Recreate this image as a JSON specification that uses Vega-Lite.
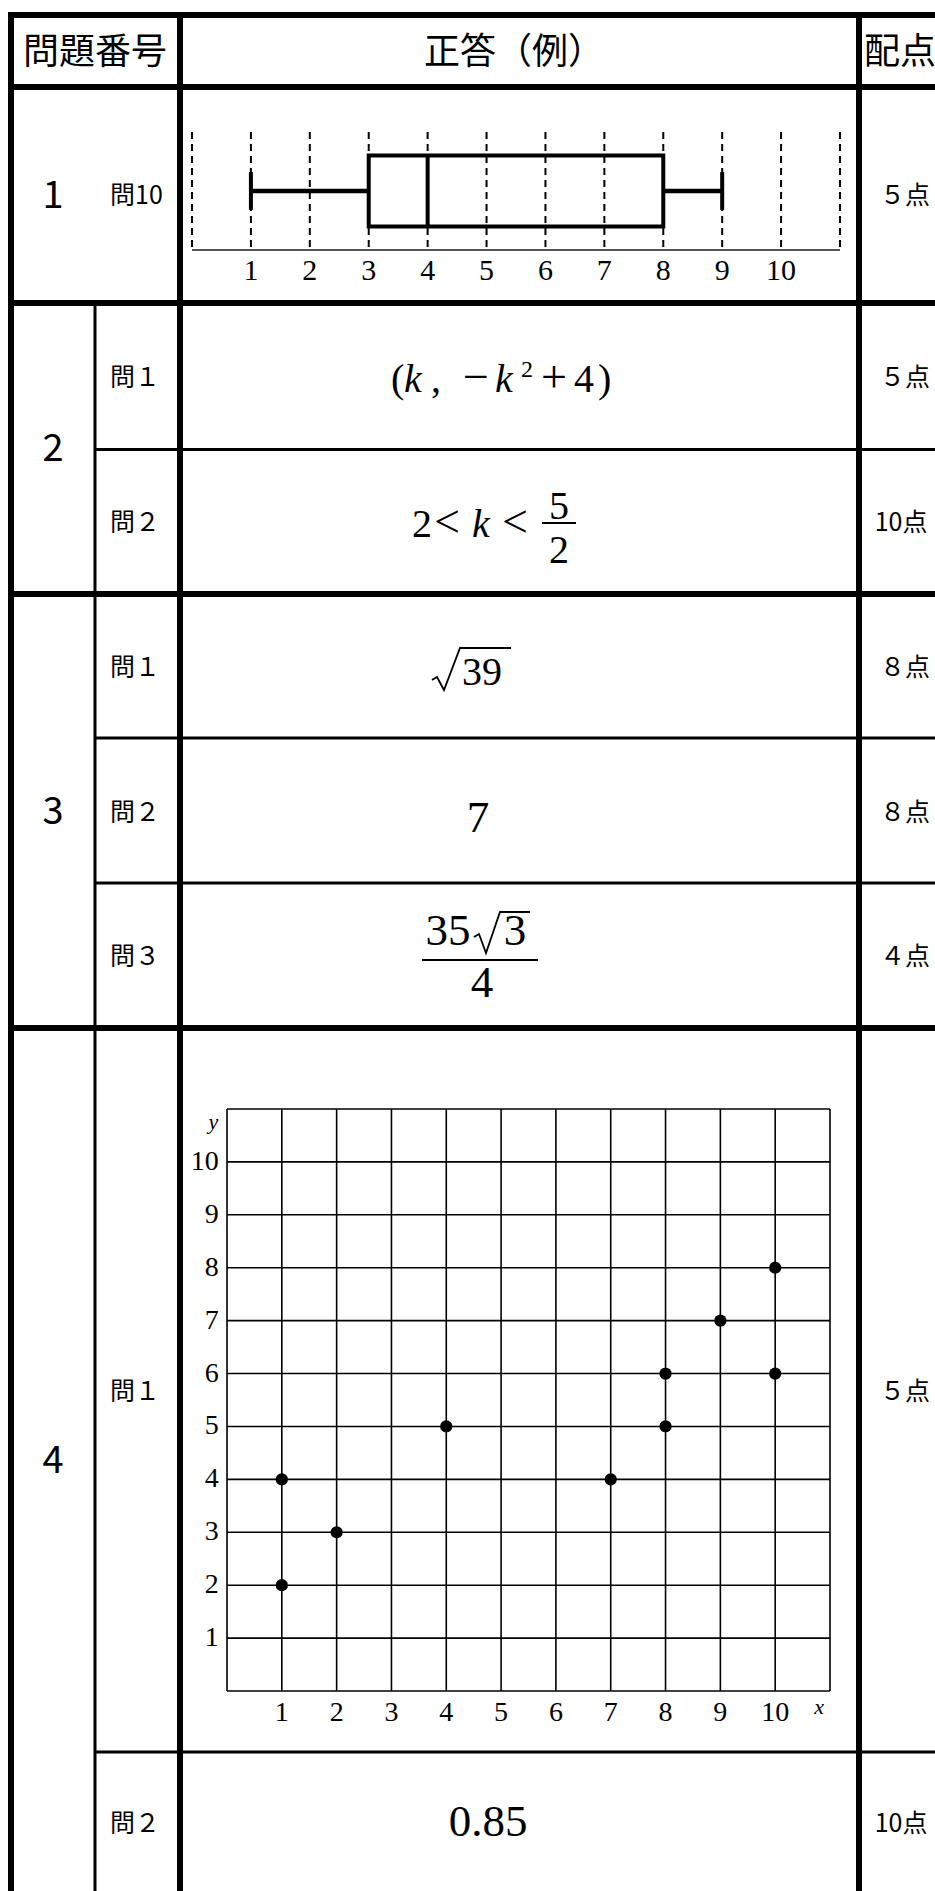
{
  "$schema": "https://vega.github.io/schema/vega-lite/v6.json",
  "width": 935,
  "height": 1891,
  "autosize": {"type": "none"},
  "padding": 0,
  "background": "white",
  "config": {"view": {"stroke": null}},
  "datasets": {
    "tableLines": [
      {"x1": 8, "x2": 935, "y1": 15, "y2": 15, "k": "thick"},
      {"x1": 8, "x2": 935, "y1": 87, "y2": 87, "k": "thick"},
      {"x1": 8, "x2": 935, "y1": 303, "y2": 303, "k": "thick"},
      {"x1": 95, "x2": 935, "y1": 449.5, "y2": 449.5, "k": "thin"},
      {"x1": 8, "x2": 935, "y1": 594, "y2": 594, "k": "thick"},
      {"x1": 95, "x2": 935, "y1": 738, "y2": 738, "k": "thin"},
      {"x1": 95, "x2": 935, "y1": 883, "y2": 883, "k": "thin"},
      {"x1": 8, "x2": 935, "y1": 1028, "y2": 1028, "k": "thick"},
      {"x1": 95, "x2": 935, "y1": 1752, "y2": 1752, "k": "thin"},
      {"x1": 11, "x2": 11, "y1": 12, "y2": 1891, "k": "thick"},
      {"x1": 95, "x2": 95, "y1": 303, "y2": 1891, "k": "thin"},
      {"x1": 180, "x2": 180, "y1": 12, "y2": 1891, "k": "thick"},
      {"x1": 859, "x2": 859, "y1": 12, "y2": 1891, "k": "thick"}
    ],
    "header": [
      {"x": 95, "y": 53, "t": "問題番号"},
      {"x": 514, "y": 53, "t": "正答（例）"},
      {"x": 900, "y": 53, "t": "配点"}
    ],
    "bigNums": [
      {"x": 53, "y": 197, "t": "1"},
      {"x": 53, "y": 450, "t": "2"},
      {"x": 53, "y": 813, "t": "3"},
      {"x": 53, "y": 1462, "t": "4"}
    ],
    "subLabels": [
      {"x": 110, "y": 196, "t": "問10"},
      {"x": 110, "y": 378, "t": "問１"},
      {"x": 110, "y": 523, "t": "問２"},
      {"x": 110, "y": 668, "t": "問１"},
      {"x": 110, "y": 813, "t": "問２"},
      {"x": 110, "y": 957, "t": "問３"},
      {"x": 110, "y": 1392, "t": "問１"},
      {"x": 110, "y": 1824, "t": "問２"}
    ],
    "scores": [
      {"x": 905, "y": 196, "t": "５点"},
      {"x": 905, "y": 378, "t": "５点"},
      {"x": 901, "y": 523, "t": "10点"},
      {"x": 905, "y": 668, "t": "８点"},
      {"x": 905, "y": 813, "t": "８点"},
      {"x": 905, "y": 957, "t": "４点"},
      {"x": 905, "y": 1392, "t": "５点"},
      {"x": 901, "y": 1824, "t": "10点"}
    ],
    "mathRoman": [
      {"x": 391, "y": 392, "t": "("},
      {"x": 431, "y": 392, "t": ","},
      {"x": 574, "y": 392, "t": "4"},
      {"x": 598, "y": 392, "t": ")"},
      {"x": 412, "y": 537, "t": "2"},
      {"x": 462, "y": 685, "t": "39"}
    ],
    "mathOps": [
      {"x": 463, "y": 392, "t": "−"},
      {"x": 541, "y": 392, "t": "+"},
      {"x": 434, "y": 537, "t": "<"},
      {"x": 502, "y": 537, "t": "<"}
    ],
    "mathItalic": [
      {"x": 404, "y": 392, "t": "k"},
      {"x": 495, "y": 392, "t": "k"},
      {"x": 472, "y": 537, "t": "k"}
    ],
    "mathSup": [
      {"x": 521, "y": 377, "t": "2"}
    ],
    "mathCenter": [
      {"x": 559, "y": 519, "t": "5"},
      {"x": 559, "y": 563, "t": "2"}
    ],
    "mathLarge": [
      {"x": 478, "y": 832, "t": "7"},
      {"x": 488, "y": 1836, "t": "0.85"},
      {"x": 448, "y": 945, "t": "35"},
      {"x": 515, "y": 945, "t": "3"},
      {"x": 482, "y": 997, "t": "4"}
    ],
    "mathLines": [
      {"g": "bar1", "x": 542, "y": 523},
      {"g": "bar1", "x": 576, "y": 523},
      {"g": "rad1", "x": 432, "y": 680},
      {"g": "rad1", "x": 437, "y": 677},
      {"g": "rad1", "x": 444, "y": 690},
      {"g": "rad1", "x": 460, "y": 648},
      {"g": "rad1", "x": 511, "y": 648},
      {"g": "bar2", "x": 422, "y": 960},
      {"g": "bar2", "x": 538, "y": 960},
      {"g": "rad2", "x": 474, "y": 937},
      {"g": "rad2", "x": 479, "y": 934},
      {"g": "rad2", "x": 486, "y": 953},
      {"g": "rad2", "x": 500, "y": 912},
      {"g": "rad2", "x": 530, "y": 912}
    ],
    "boxSummary": [
      {"min": 1, "q1": 3, "median": 4, "q3": 8, "max": 9}
    ],
    "boxGrid": [
      {"v": 0}, {"v": 1}, {"v": 2}, {"v": 3}, {"v": 4}, {"v": 5},
      {"v": 6}, {"v": 7}, {"v": 8}, {"v": 9}, {"v": 10}, {"v": 11}
    ],
    "ticks": [
      {"v": 1}, {"v": 2}, {"v": 3}, {"v": 4}, {"v": 5},
      {"v": 6}, {"v": 7}, {"v": 8}, {"v": 9}, {"v": 10}
    ],
    "points": [
      {"x": 1, "y": 2}, {"x": 1, "y": 4}, {"x": 2, "y": 3}, {"x": 4, "y": 5},
      {"x": 7, "y": 4}, {"x": 8, "y": 5}, {"x": 8, "y": 6}, {"x": 9, "y": 7},
      {"x": 10, "y": 6}, {"x": 10, "y": 8}
    ]
  },
  "resolve": {"scale": {"x": "independent", "y": "independent", "strokeWidth": "independent"}},
  "layer": [
    {
      "data": {"name": "tableLines"},
      "mark": {"type": "rule", "color": "black"},
      "encoding": {
        "x": {"field": "x1", "type": "quantitative", "axis": null, "scale": {"domain": [0, 935], "range": [0, 935], "nice": false, "zero": false}},
        "x2": {"field": "x2"},
        "y": {"field": "y1", "type": "quantitative", "axis": null, "scale": {"domain": [0, 1891], "range": [0, 1891], "nice": false, "zero": false}},
        "y2": {"field": "y2"},
        "strokeWidth": {"field": "k", "type": "nominal", "legend": null, "scale": {"domain": ["thick", "thin"], "range": [6, 3]}}
      }
    },
    {
      "data": {"name": "header"},
      "mark": {"type": "text", "font": "Noto Sans CJK JP", "fontSize": 36, "align": "center", "baseline": "middle", "color": "black"},
      "encoding": {
        "x": {"field": "x", "type": "quantitative", "axis": null, "scale": {"domain": [0, 935], "range": [0, 935], "nice": false, "zero": false}},
        "y": {"field": "y", "type": "quantitative", "axis": null, "scale": {"domain": [0, 1891], "range": [0, 1891], "nice": false, "zero": false}},
        "text": {"field": "t"}
      }
    },
    {
      "data": {"name": "bigNums"},
      "mark": {"type": "text", "font": "Noto Sans CJK JP", "fontSize": 38, "align": "center", "baseline": "middle", "color": "black"},
      "encoding": {
        "x": {"field": "x", "type": "quantitative", "axis": null, "scale": {"domain": [0, 935], "range": [0, 935], "nice": false, "zero": false}},
        "y": {"field": "y", "type": "quantitative", "axis": null, "scale": {"domain": [0, 1891], "range": [0, 1891], "nice": false, "zero": false}},
        "text": {"field": "t"}
      }
    },
    {
      "data": {"name": "subLabels"},
      "mark": {"type": "text", "font": "Noto Sans CJK JP", "fontSize": 25, "align": "left", "baseline": "middle", "color": "black"},
      "encoding": {
        "x": {"field": "x", "type": "quantitative", "axis": null, "scale": {"domain": [0, 935], "range": [0, 935], "nice": false, "zero": false}},
        "y": {"field": "y", "type": "quantitative", "axis": null, "scale": {"domain": [0, 1891], "range": [0, 1891], "nice": false, "zero": false}},
        "text": {"field": "t"}
      }
    },
    {
      "data": {"name": "scores"},
      "mark": {"type": "text", "font": "Noto Sans CJK JP", "fontSize": 25, "align": "center", "baseline": "middle", "color": "black"},
      "encoding": {
        "x": {"field": "x", "type": "quantitative", "axis": null, "scale": {"domain": [0, 935], "range": [0, 935], "nice": false, "zero": false}},
        "y": {"field": "y", "type": "quantitative", "axis": null, "scale": {"domain": [0, 1891], "range": [0, 1891], "nice": false, "zero": false}},
        "text": {"field": "t"}
      }
    },
    {
      "data": {"name": "mathRoman"},
      "mark": {"type": "text", "font": "Liberation Serif", "fontSize": 40, "align": "left", "baseline": "alphabetic", "color": "black"},
      "encoding": {
        "x": {"field": "x", "type": "quantitative", "axis": null, "scale": {"domain": [0, 935], "range": [0, 935], "nice": false, "zero": false}},
        "y": {"field": "y", "type": "quantitative", "axis": null, "scale": {"domain": [0, 1891], "range": [0, 1891], "nice": false, "zero": false}},
        "text": {"field": "t"}
      }
    },
    {
      "data": {"name": "mathOps"},
      "mark": {"type": "text", "font": "Liberation Serif", "fontSize": 46, "align": "left", "baseline": "alphabetic", "color": "black"},
      "encoding": {
        "x": {"field": "x", "type": "quantitative", "axis": null, "scale": {"domain": [0, 935], "range": [0, 935], "nice": false, "zero": false}},
        "y": {"field": "y", "type": "quantitative", "axis": null, "scale": {"domain": [0, 1891], "range": [0, 1891], "nice": false, "zero": false}},
        "text": {"field": "t"}
      }
    },
    {
      "data": {"name": "mathItalic"},
      "mark": {"type": "text", "font": "Liberation Serif", "fontSize": 40, "fontStyle": "italic", "align": "left", "baseline": "alphabetic", "color": "black"},
      "encoding": {
        "x": {"field": "x", "type": "quantitative", "axis": null, "scale": {"domain": [0, 935], "range": [0, 935], "nice": false, "zero": false}},
        "y": {"field": "y", "type": "quantitative", "axis": null, "scale": {"domain": [0, 1891], "range": [0, 1891], "nice": false, "zero": false}},
        "text": {"field": "t"}
      }
    },
    {
      "data": {"name": "mathSup"},
      "mark": {"type": "text", "font": "Liberation Serif", "fontSize": 24, "align": "left", "baseline": "alphabetic", "color": "black"},
      "encoding": {
        "x": {"field": "x", "type": "quantitative", "axis": null, "scale": {"domain": [0, 935], "range": [0, 935], "nice": false, "zero": false}},
        "y": {"field": "y", "type": "quantitative", "axis": null, "scale": {"domain": [0, 1891], "range": [0, 1891], "nice": false, "zero": false}},
        "text": {"field": "t"}
      }
    },
    {
      "data": {"name": "mathCenter"},
      "mark": {"type": "text", "font": "Liberation Serif", "fontSize": 40, "align": "center", "baseline": "alphabetic", "color": "black"},
      "encoding": {
        "x": {"field": "x", "type": "quantitative", "axis": null, "scale": {"domain": [0, 935], "range": [0, 935], "nice": false, "zero": false}},
        "y": {"field": "y", "type": "quantitative", "axis": null, "scale": {"domain": [0, 1891], "range": [0, 1891], "nice": false, "zero": false}},
        "text": {"field": "t"}
      }
    },
    {
      "data": {"name": "mathLarge"},
      "mark": {"type": "text", "font": "Liberation Serif", "fontSize": 45, "align": "center", "baseline": "alphabetic", "color": "black"},
      "encoding": {
        "x": {"field": "x", "type": "quantitative", "axis": null, "scale": {"domain": [0, 935], "range": [0, 935], "nice": false, "zero": false}},
        "y": {"field": "y", "type": "quantitative", "axis": null, "scale": {"domain": [0, 1891], "range": [0, 1891], "nice": false, "zero": false}},
        "text": {"field": "t"}
      }
    },
    {
      "data": {"name": "mathLines"},
      "mark": {"type": "line", "color": "black", "strokeWidth": 1.8},
      "encoding": {
        "x": {"field": "x", "type": "quantitative", "axis": null, "scale": {"domain": [0, 935], "range": [0, 935], "nice": false, "zero": false}},
        "y": {"field": "y", "type": "quantitative", "axis": null, "scale": {"domain": [0, 1891], "range": [0, 1891], "nice": false, "zero": false}},
        "detail": {"field": "g"}
      }
    },
    {
      "data": {"name": "boxGrid"},
      "mark": {"type": "rule", "color": "black", "strokeWidth": 2, "strokeDash": [7, 5]},
      "encoding": {
        "x": {"field": "v", "type": "quantitative", "axis": null, "scale": {"domain": [0, 11], "range": [192, 840], "nice": false, "zero": false}},
        "y": {"datum": 1, "type": "quantitative", "axis": null, "scale": {"domain": [0, 1], "range": [250, 132], "nice": false, "zero": false}},
        "y2": {"datum": 0}
      }
    },
    {
      "data": {"name": "boxSummary"},
      "mark": {"type": "rule", "color": "#555555", "strokeWidth": 2},
      "encoding": {
        "x": {"datum": 0, "type": "quantitative", "axis": null, "scale": {"domain": [0, 11], "range": [192, 840], "nice": false, "zero": false}},
        "x2": {"datum": 11},
        "y": {"datum": 0, "type": "quantitative", "axis": null, "scale": {"domain": [0, 1], "range": [250, 132], "nice": false, "zero": false}}
      }
    },
    {
      "data": {"name": "boxSummary"},
      "mark": {"type": "rect", "fillOpacity": 0, "stroke": "black", "strokeWidth": 4},
      "encoding": {
        "x": {"field": "q1", "type": "quantitative", "axis": null, "scale": {"domain": [0, 11], "range": [192, 840], "nice": false, "zero": false}},
        "x2": {"field": "q3"},
        "y": {"datum": 0.2, "type": "quantitative", "axis": null, "scale": {"domain": [0, 1], "range": [250, 132], "nice": false, "zero": false}},
        "y2": {"datum": 0.8}
      }
    },
    {
      "data": {"name": "boxSummary"},
      "mark": {"type": "rule", "color": "black", "strokeWidth": 4},
      "encoding": {
        "x": {"field": "median", "type": "quantitative", "axis": null, "scale": {"domain": [0, 11], "range": [192, 840], "nice": false, "zero": false}},
        "y": {"datum": 0.2, "type": "quantitative", "axis": null, "scale": {"domain": [0, 1], "range": [250, 132], "nice": false, "zero": false}},
        "y2": {"datum": 0.8}
      }
    },
    {
      "data": {"name": "boxSummary"},
      "mark": {"type": "rule", "color": "black", "strokeWidth": 4.5},
      "encoding": {
        "x": {"field": "min", "type": "quantitative", "axis": null, "scale": {"domain": [0, 11], "range": [192, 840], "nice": false, "zero": false}},
        "x2": {"field": "q1"},
        "y": {"datum": 0.5, "type": "quantitative", "axis": null, "scale": {"domain": [0, 1], "range": [250, 132], "nice": false, "zero": false}}
      }
    },
    {
      "data": {"name": "boxSummary"},
      "mark": {"type": "rule", "color": "black", "strokeWidth": 4.5},
      "encoding": {
        "x": {"field": "q3", "type": "quantitative", "axis": null, "scale": {"domain": [0, 11], "range": [192, 840], "nice": false, "zero": false}},
        "x2": {"field": "max"},
        "y": {"datum": 0.5, "type": "quantitative", "axis": null, "scale": {"domain": [0, 1], "range": [250, 132], "nice": false, "zero": false}}
      }
    },
    {
      "data": {"name": "boxSummary"},
      "mark": {"type": "rule", "color": "black", "strokeWidth": 4},
      "encoding": {
        "x": {"field": "min", "type": "quantitative", "axis": null, "scale": {"domain": [0, 11], "range": [192, 840], "nice": false, "zero": false}},
        "y": {"datum": 0.34, "type": "quantitative", "axis": null, "scale": {"domain": [0, 1], "range": [250, 132], "nice": false, "zero": false}},
        "y2": {"datum": 0.66}
      }
    },
    {
      "data": {"name": "boxSummary"},
      "mark": {"type": "rule", "color": "black", "strokeWidth": 4},
      "encoding": {
        "x": {"field": "max", "type": "quantitative", "axis": null, "scale": {"domain": [0, 11], "range": [192, 840], "nice": false, "zero": false}},
        "y": {"datum": 0.34, "type": "quantitative", "axis": null, "scale": {"domain": [0, 1], "range": [250, 132], "nice": false, "zero": false}},
        "y2": {"datum": 0.66}
      }
    },
    {
      "data": {"name": "ticks"},
      "mark": {"type": "text", "font": "Liberation Serif", "fontSize": 30, "align": "center", "baseline": "alphabetic", "color": "black"},
      "encoding": {
        "x": {"field": "v", "type": "quantitative", "axis": null, "scale": {"domain": [0, 11], "range": [192, 840], "nice": false, "zero": false}},
        "y": {"datum": -0.25, "type": "quantitative", "axis": null, "scale": {"domain": [0, 1], "range": [250, 132], "nice": false, "zero": false}},
        "text": {"field": "v", "type": "quantitative"}
      }
    },
    {
      "data": {"name": "boxGrid"},
      "mark": {"type": "rule", "color": "black", "strokeWidth": 1.6},
      "encoding": {
        "x": {"field": "v", "type": "quantitative", "axis": null, "scale": {"domain": [0, 11], "range": [227, 830], "nice": false, "zero": false}},
        "y": {"datum": 0, "type": "quantitative", "axis": null, "scale": {"domain": [0, 11], "range": [1691, 1109], "nice": false, "zero": false}},
        "y2": {"datum": 11}
      }
    },
    {
      "data": {"name": "boxGrid"},
      "mark": {"type": "rule", "color": "black", "strokeWidth": 1.6},
      "encoding": {
        "y": {"field": "v", "type": "quantitative", "axis": null, "scale": {"domain": [0, 11], "range": [1691, 1109], "nice": false, "zero": false}},
        "x": {"datum": 0, "type": "quantitative", "axis": null, "scale": {"domain": [0, 11], "range": [227, 830], "nice": false, "zero": false}},
        "x2": {"datum": 11}
      }
    },
    {
      "data": {"name": "points"},
      "mark": {"type": "point", "filled": true, "color": "black", "opacity": 1, "size": 150},
      "encoding": {
        "x": {"field": "x", "type": "quantitative", "axis": null, "scale": {"domain": [0, 11], "range": [227, 830], "nice": false, "zero": false}},
        "y": {"field": "y", "type": "quantitative", "axis": null, "scale": {"domain": [0, 11], "range": [1691, 1109], "nice": false, "zero": false}}
      }
    },
    {
      "data": {"name": "ticks"},
      "mark": {"type": "text", "font": "Liberation Serif", "fontSize": 28, "align": "center", "baseline": "alphabetic", "color": "black"},
      "encoding": {
        "x": {"field": "v", "type": "quantitative", "axis": null, "scale": {"domain": [0, 11], "range": [227, 830], "nice": false, "zero": false}},
        "y": {"datum": -0.57, "type": "quantitative", "axis": null, "scale": {"domain": [0, 11], "range": [1691, 1109], "nice": false, "zero": false}},
        "text": {"field": "v", "type": "quantitative"}
      }
    },
    {
      "data": {"name": "ticks"},
      "mark": {"type": "text", "font": "Liberation Serif", "fontSize": 28, "align": "right", "baseline": "middle", "color": "black"},
      "encoding": {
        "y": {"field": "v", "type": "quantitative", "axis": null, "scale": {"domain": [0, 11], "range": [1691, 1109], "nice": false, "zero": false}},
        "x": {"datum": -0.15, "type": "quantitative", "axis": null, "scale": {"domain": [0, 11], "range": [227, 830], "nice": false, "zero": false}},
        "text": {"field": "v", "type": "quantitative"}
      }
    },
    {
      "data": {"values": [{"t": "x"}]},
      "mark": {"type": "text", "font": "Liberation Serif", "fontSize": 22, "fontStyle": "italic", "align": "center", "baseline": "middle", "color": "black"},
      "encoding": {
        "x": {"datum": 10.8, "type": "quantitative", "axis": null, "scale": {"domain": [0, 11], "range": [227, 830], "nice": false, "zero": false}},
        "y": {"datum": -0.3, "type": "quantitative", "axis": null, "scale": {"domain": [0, 11], "range": [1691, 1109], "nice": false, "zero": false}},
        "text": {"field": "t"}
      }
    },
    {
      "data": {"values": [{"t": "y"}]},
      "mark": {"type": "text", "font": "Liberation Serif", "fontSize": 22, "fontStyle": "italic", "align": "center", "baseline": "middle", "color": "black"},
      "encoding": {
        "x": {"datum": -0.25, "type": "quantitative", "axis": null, "scale": {"domain": [0, 11], "range": [227, 830], "nice": false, "zero": false}},
        "y": {"datum": 10.75, "type": "quantitative", "axis": null, "scale": {"domain": [0, 11], "range": [1691, 1109], "nice": false, "zero": false}},
        "text": {"field": "t"}
      }
    }
  ]
}
